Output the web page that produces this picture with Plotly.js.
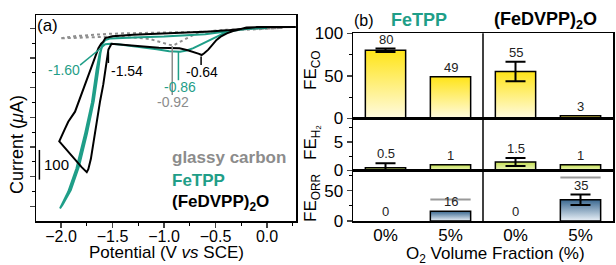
<!DOCTYPE html>
<html><head><meta charset="utf-8">
<script src="https://cdn.plot.ly/plotly-3.0.1.min.js"></script>
<style>html,body{margin:0;padding:0;background:#fff}#g{width:616px;height:265px}</style>
</head><body><div id="g"></div>
<script>
// ---------- Panel (a): cyclic voltammograms (V vs SCE, µA) ----------
const gcV  = [0.15, 0.0, -0.2, -0.4, -0.55, -0.62, -0.68, -0.78, -0.85, -0.91, -0.95, -1.04, -1.14, -1.3, -1.45, -1.6, -1.8, -2.01, -1.85, -1.7, -1.556, -1.4, -1.23, -1.0, -0.8, -0.65, -0.45, -0.3, -0.15, 0.0, 0.15];
const gcI  = [1, 0, -2, -5, -9, -12, -16, -34, -47, -58, -55, -45, -36, -31, -28, -29, -32, -34, -26, -22, -19, -17, -16, -15, -14, -12, -9, -6, -3, -1, 1];

const tppV = [0.0, -0.1, -0.2, -0.294, -0.39, -0.456, -0.52, -0.585, -0.65, -0.715, -0.78, -0.845, -0.9, -0.95, -1.07, -1.23, -1.43, -1.52, -1.57, -1.60, -1.625, -1.655, -1.70, -1.77, -1.85, -1.93, -2.01, -1.985, -1.905, -1.825, -1.748, -1.682, -1.642, -1.618, -1.598, -1.57, -1.52, -1.4, -1.23, -1.0, -0.75, -0.6, -0.49, -0.37, -0.26, -0.15, 0.0];
const tppI = [1, 0, -2, -6, -13, -23, -33, -45, -56, -67, -75, -79, -79, -77, -71, -63, -55, -52, -54, -62, -85, -140, -250, -360, -472, -551, -607, -595, -545, -465, -355, -245, -150, -85, -52, -40, -34, -32, -30, -28, -24, -20, -15, -9, -3, 0, 1];

const dvpV = [0.28, 0.15, 0.0, -0.12, -0.2, -0.26, -0.33, -0.39, -0.45, -0.49, -0.53, -0.57, -0.61, -0.635, -0.66, -0.7, -0.77, -0.85, -0.95, -1.05, -1.2, -1.35, -1.45, -1.51, -1.54, -1.56, -1.59, -1.62, -1.65, -1.68, -1.71, -1.735, -1.75, -1.8, -1.87, -1.94, -2.017, -1.97, -1.93, -1.864, -1.82, -1.78, -1.74, -1.70, -1.67, -1.637, -1.61, -1.59, -1.57, -1.5, -1.3, -1.04, -0.72, -0.55, -0.39, -0.28, -0.2, -0.1, 0.05, 0.28];
const dvpI = [4, 4, 4, 4, 3, -3, -9, -17, -28, -39, -55, -72, -84, -90, -86, -81, -74, -67, -67, -66, -61, -56, -53, -52, -72, -120, -190, -244, -312, -379, -440, -475, -485, -468, -440, -411, -381, -345, -315, -281, -240, -202, -163, -124, -95, -67, -52, -45, -33, -27, -22, -19, -14, -11, -7, -3, 2, 4, 4, 4];

const peakV     = [-1.60, -1.54, -0.64, -0.86, -0.92];
const peakText  = ['-1.60', '-1.54', '-0.64', '-0.86', '-0.92'];
const seriesNames = ['glassy carbon', 'FeTPP', '(FeDVPP)<sub>2</sub>O'];

// ---------- Panel (b): Faradaic efficiencies ----------
const groupNames = ['FeTPP', '(FeDVPP)<sub>2</sub>O'];
const o2Labels = ['0%', '5%', '0%', '5%'];
const feCO     = [80, 49, 55, 3];
const feCOErr  = [2, 0, 11.5, 0];
const feH2     = [0.5, 1, 1.5, 1];
const feH2Err  = [0.75, 0, 0.7, 0];
const feORR    = [0, 16, 0, 35];
const feORRErr = [0, 0, 0, 8.5];
const orrRef   = [null, 35.5, null, 71.5];

// ---------- styling ----------
const W = 616, H = 265;
const FONT = 'Liberation Sans, Arial, Helvetica, sans-serif';
const TEAL = '#1f9e88', GRAY = '#8c8c8c';
const px = x => x / W, py = y => 1 - y / H;

const traces = [];
traces.push({x: gcV, y: gcI, xaxis: 'x', yaxis: 'y', mode: 'lines', line: {color: '#8f8f8f', width: 2, dash: 'dot'}, hoverinfo: 'skip'});
traces.push({x: tppV, y: tppI, xaxis: 'x', yaxis: 'y', mode: 'lines', line: {color: TEAL, width: 2}, hoverinfo: 'skip'});
traces.push({x: dvpV, y: dvpI, xaxis: 'x', yaxis: 'y', mode: 'lines', line: {color: '#000', width: 2}, hoverinfo: 'skip'});

const annotations = [];
const BW = 0.62;
function addRow(vals, errs, yax, scale) {
  vals.forEach((v, i) => {
    if (v <= 0) return;
    traces.push({
      x: [i - BW / 2, i - BW / 2, i + BW / 2, i + BW / 2, i - BW / 2],
      y: [0, v, v, 0, 0],
      xaxis: 'x2', yaxis: yax, mode: 'lines', fill: 'toself',
      fillgradient: {type: 'vertical', colorscale: scale},
      line: {color: '#000', width: 1.5}, hoverinfo: 'skip'
    });
  });
  traces.push({
    x: vals.map((v, i) => i), y: vals.map((v, i) => errs[i] > 0 ? v : null),
    xaxis: 'x2', yaxis: yax, mode: 'markers', marker: {size: 1, color: 'rgba(0,0,0,0)'},
    error_y: {type: 'data', array: errs, arrayminus: vals.map((v, i) => Math.min(errs[i], v)), visible: true, color: '#000', thickness: 2, width: 10},
    hoverinfo: 'skip'
  });
  vals.forEach((v, i) => annotations.push({
    xref: 'x2', yref: yax, x: i, y: v + errs[i], text: String(v), showarrow: false,
    xanchor: 'center', yanchor: 'bottom', yshift: 0, font: {size: 13, color: '#222'}
  }));
}
addRow(feCO, feCOErr, 'y2', [[0, '#fffbe0'], [1, '#ffe418']]);
addRow(feH2, feH2Err, 'y3', [[0, '#eef7c2'], [1, '#c3de50']]);
addRow(feORR, feORRErr, 'y4', [[0, '#eaf1f8'], [1, '#3a6890']]);
orrRef.forEach((r, i) => {
  if (r == null) return;
  traces.push({x: [i - BW / 2, i + BW / 2], y: [r, r], xaxis: 'x2', yaxis: 'y4', mode: 'lines', line: {color: '#999', width: 2}, hoverinfo: 'skip'});
});

const axLine = {showline: true, linecolor: '#000', linewidth: 1.5, zeroline: false, showgrid: false};
const minorT = (d) => ({ticks: 'outside', ticklen: 3, tickwidth: 1, tickcolor: '#000', dtick: d, showgrid: false});

const layout = {
  width: W, height: H, margin: {l: 0, r: 0, t: 0, b: 0},
  paper_bgcolor: '#fff', plot_bgcolor: 'rgba(0,0,0,0)', showlegend: false,
  font: {family: FONT, color: '#000'},
  xaxis: Object.assign({}, axLine, {domain: [px(36), px(296)], range: [-2.243, 0.2816], anchor: 'y', mirror: true,
    tick0: 0, dtick: 0.5, tickformat: '.1f', ticks: 'outside', ticklen: 5, tickwidth: 1.5, tickfont: {size: 16},
    ticklabelstandoff: -5, minor: minorT(0.25)}),
  yaxis: Object.assign({}, axLine, {domain: [py(221), py(15)], range: [-649.5, 44.8], anchor: 'x', mirror: true,
    tick0: 0, dtick: 100, ticks: 'outside', ticklen: 5, tickwidth: 1.5, showticklabels: false, minor: minorT(50)}),
  xaxis2: Object.assign({}, axLine, {domain: [px(353), px(613)], range: [-0.5, 3.5], anchor: 'y4', mirror: 'all',
    tickmode: 'array', tickvals: [0, 1, 2, 3], ticktext: o2Labels, ticks: '', tickfont: {size: 17}, ticklabelstandoff: -2}),
  yaxis2: Object.assign({}, axLine, {domain: [py(118.3), py(33.3)], range: [0, 100], anchor: 'x2', mirror: true,
    tick0: 0, dtick: 50, ticks: 'outside', ticklen: 5, tickwidth: 1.5, tickfont: {size: 17}, minor: minorT(25)}),
  yaxis3: Object.assign({}, axLine, {domain: [py(170.5), py(118.3)], range: [0, 9.1], anchor: 'x2', mirror: true,
    tick0: 0, dtick: 5, ticks: 'outside', ticklen: 5, tickwidth: 1.5, tickfont: {size: 17}, minor: minorT(2.5)}),
  yaxis4: Object.assign({}, axLine, {domain: [py(221), py(170.5)], range: [0, 83], anchor: 'x2', mirror: true,
    tick0: 0, dtick: 50, ticks: 'outside', ticklen: 5, tickwidth: 1.5, tickfont: {size: 17}, minor: minorT(25)}),
  shapes: [
    {type: 'line', xref: 'x2', yref: 'paper', x0: 1.5, x1: 1.5, y0: py(221), y1: py(33.3), line: {color: '#000', width: 1.5}},
    {type: 'line', xref: 'x', yref: 'y', x0: -1.815, y0: -124, x1: peakV[0], y1: -63, line: {color: TEAL, width: 1.5}},
    {type: 'line', xref: 'x', yref: 'y', x0: peakV[1], y0: -80, x1: peakV[1], y1: -117, line: {color: '#000', width: 1.5}},
    {type: 'line', xref: 'x', yref: 'y', x0: peakV[2], y0: -95, x1: peakV[2], y1: -124, line: {color: '#000', width: 1.5}},
    {type: 'line', xref: 'x', yref: 'y', x0: peakV[3], y0: -79, x1: peakV[3], y1: -175, line: {color: TEAL, width: 1.5}},
    {type: 'line', xref: 'x', yref: 'y', x0: peakV[4], y0: -60, x1: peakV[4], y1: -225, line: {color: GRAY, width: 1.5}},
    {type: 'line', xref: 'x', yref: 'y', x0: -2.21, x1: -2.21, y0: -410, y1: -510, line: {color: '#000', width: 1.5}}
  ],
  annotations: annotations
};
const ann = (o) => annotations.push(Object.assign({showarrow: false, xref: 'paper', yref: 'paper', xanchor: 'center', yanchor: 'middle'}, o));
ann({x: px(47), y: py(26), text: '(a)', font: {size: 17}});
ann({x: px(17), y: py(145), text: 'Current (<i>μ</i>A)', textangle: -90, font: {size: 18}});
ann({x: px(166), y: py(252), text: 'Potential (V <i>vs</i> SCE)', font: {size: 17}});
const peakPos = [[-1.97, -141, TEAL], [-1.363, -144, '#000'], [-0.634, -147, '#000'], [-0.845, -199, TEAL], [-0.91, -247, GRAY]];
peakPos.forEach((p, i) => ann({xref: 'x', yref: 'y', x: p[0], y: p[1], text: peakText[i], font: {size: 14, color: p[2]}}));
ann({x: px(41.5), y: py(164), xanchor: 'left', text: '100', font: {size: 15}});
ann({x: px(170), y: py(157), xanchor: 'left', text: '<b>' + seriesNames[0] + '</b>', font: {size: 17, color: GRAY}});
ann({x: px(170), y: py(180), xanchor: 'left', text: '<b>' + seriesNames[1] + '</b>', font: {size: 17, color: TEAL}});
ann({x: px(170), y: py(203), xanchor: 'left', text: '<b>' + seriesNames[2] + '</b>', font: {size: 17, color: '#000'}});
ann({x: px(364), y: py(21), text: '(b)', font: {size: 16}});
ann({x: px(419), y: py(20), text: '<b>' + groupNames[0] + '</b>', font: {size: 18, color: TEAL}});
ann({x: px(545), y: py(21), text: '<b>' + groupNames[1] + '</b>', font: {size: 18, color: '#000'}});
ann({x: px(312), y: py(70), text: 'FE<sub>CO</sub>', textangle: -90, font: {size: 17}});
ann({x: px(312), y: py(142), text: 'FE<sub>H₂</sub>', textangle: -90, font: {size: 17}});
ann({x: px(312), y: py(197), text: 'FE<sub>ORR</sub>', textangle: -90, font: {size: 17}});
ann({x: px(495), y: py(255), text: 'O<sub>2</sub> Volume Fraction (%)', font: {size: 17}});

Plotly.newPlot('g', traces, layout, {staticPlot: true, displayModeBar: false});
</script></body></html>
